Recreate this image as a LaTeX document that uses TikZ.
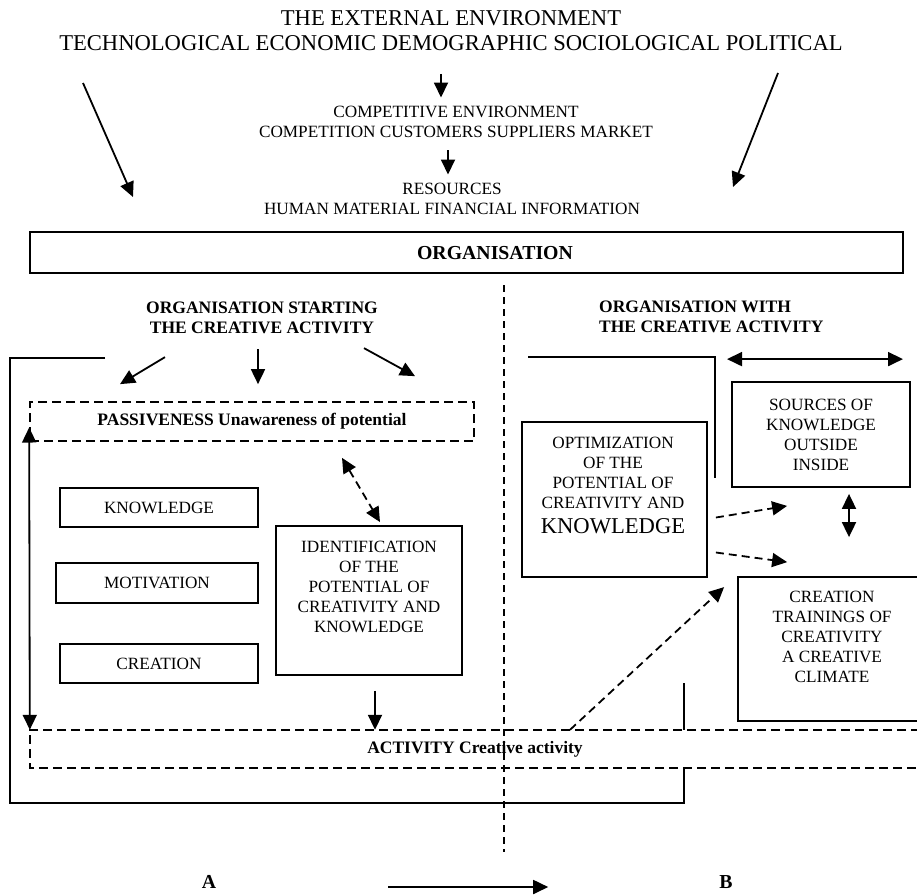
\documentclass[tikz,border=0pt]{standalone}
\usepackage{fontspec}
\setmainfont{Liberation Serif}
\usetikzlibrary{arrows.meta}

\begin{document}
\begin{tikzpicture}[x=1pt, y=-1pt, >={Triangle[length=15pt,width=14pt]}]
   \tikzstyle{every node}=[font=\fontsize{17.2}{20}\selectfont, align=center, inner sep=0pt]
   \tikzstyle{head}=[font=\fontsize{17.5}{20}\selectfont\bfseries]
   \tikzstyle{box}=[draw, line width=1.8pt]
   \tikzstyle{dbox}=[draw, line width=1.7pt, dash pattern=on 9pt off 5pt]
   \tikzstyle{frame}=[line width=1.2pt]
   \tikzstyle{arr}=[line width=1.8pt]
   \tikzstyle{darr}=[line width=1.8pt, dash pattern=on 8pt off 5pt]

\useasboundingbox (0,0) rectangle (917,894);

% environment levels
\node[font=\fontsize{22.6}{25}\selectfont] (ext) at (451,30.5)
    {THE EXTERNAL ENVIRONMENT\\TECHNOLOGICAL ECONOMIC DEMOGRAPHIC SOCIOLOGICAL POLITICAL};
\node (comp) at (456,121.5) {COMPETITIVE ENVIRONMENT\\COMPETITION CUSTOMERS SUPPLIERS MARKET};
\node (res) at (452,198.5) {RESOURCES\\HUMAN MATERIAL FINANCIAL INFORMATION};

\draw[arr,->] ([xshift=-10pt,yshift=-23pt]ext.south) -- ([xshift=-15pt,yshift=8pt]comp.north);
\draw[arr,->] ([xshift=-8pt,yshift=-13pt]comp.south) -- ([xshift=-4pt,yshift=8pt]res.north);

\coordinate (envL) at (83,83);
\coordinate (envR) at (778,73);
\coordinate (inL) at (133,197);
\coordinate (inR) at (733,187);
\draw[arr,->] (envL) -- (inL);
\draw[arr,->] (envR) -- (inR);

% organisation
\node[box, minimum width=873pt, minimum height=41pt] (org) at (466.5,252.5) {};
\node[font=\fontsize{19.8}{22}\selectfont\bfseries] (orgt) at (495,253) {ORGANISATION};

\draw[line width=1.2pt, dash pattern=on 7pt off 5pt] (504,285) -- (504,852);

% A side
\node[head] (startA) at (262,318) {ORGANISATION STARTING\\THE CREATIVE ACTIVITY};
\node[head, dbox, minimum width=444pt, minimum height=39pt] (pass) at (252,421.5)
    {PASSIVENESS Unawareness of potential};

\draw[arr,->] ([shift={(-97,23)}]startA.south) -- ([shift={(-132,-17)}]pass.north);
\draw[arr,->] ([shift={(-4,15)}]startA.south) -- ([shift={(6,-17)}]pass.north);
\draw[arr,->] ([shift={(102,14)}]startA.south) -- ([shift={(163,-25)}]pass.north);

\node[box, minimum width=198pt, minimum height=39pt] (know) at (159,507.5) {KNOWLEDGE};
\node[box, minimum width=202pt, minimum height=40pt] (motiv) at (157,583) {MOTIVATION};
\node[box, minimum width=198pt, minimum height=39pt] (creat) at (159,663.5) {CREATION};

\node[box, minimum width=186pt, minimum height=149pt] (idbox) at (369,600.5) {};
\node (idtext) at (369,586.5) {IDENTIFICATION\\OF THE\\POTENTIAL OF\\CREATIVITY AND\\KNOWLEDGE};

\draw[darr,<->] ([shift={(90,16)}]pass.south) -- ([shift={(11,-3)}]idbox.north);

% activity
\node[head, minimum width=890pt, minimum height=38pt] (act) at (475,749) {ACTIVITY Creative activity};
\draw[dbox] (act.north east) -- (act.north west) -- (act.south west) -- (act.south east);

\coordinate (idout) at ([xshift=6pt,yshift=-15pt]idbox.south);
\draw[arr,->] (idout) -- (idout |- act.north);
\draw[arr,<->] ([yshift=-6pt]pass.west) -- (act.north west);

\coordinate (stub) at (684,683);
\draw[frame] (105,358) -| (10,803) -| (684,768);
\draw[frame] (stub) -- (stub |- act.north);

% B side
\node[head, anchor=west, align=left] (withB) at (599,317) {ORGANISATION WITH\\THE CREATIVE ACTIVITY};
\draw[frame] (528,357) -| (715,478);

\node[box, minimum width=185pt, minimum height=155pt] (opt) at (614.5,499.5) {};
\node (opttext) at (613,485) {OPTIMIZATION\\OF THE\\POTENTIAL OF\\CREATIVITY AND\\[5pt]{\fontsize{22.6}{24}\selectfont KNOWLEDGE}};

\node[box, minimum width=178pt, minimum height=105pt] (src) at (821,434.5) {SOURCES OF\\KNOWLEDGE\\OUTSIDE\\INSIDE};

\node[box, minimum width=188pt, minimum height=144pt] (cr) at (832,649) {};
\node (crtext) at (832,637) {CREATION\\TRAININGS OF\\CREATIVITY\\A CREATIVE\\CLIMATE};

\draw[arr,<->] ([shift={(-94,-22)}]src.north) -- ([shift={(82,-22)}]src.north);
\draw[arr,<->] ([shift={(28,6)}]src.south) -- ([shift={(17,-39)}]cr.north);

\draw[darr,->] ([shift={(8,18)}]opt.east) -- ([shift={(56,18)}]src.south west);
\draw[darr,->] ([shift={(8,53)}]opt.east) -- ([shift={(50,-14)}]cr.north west);
\draw[darr,->] ([xshift=95pt]act.north) -- ([shift={(-13,11)}]cr.north west);

% A to B
\node[font=\fontsize{19.8}{22}\selectfont\bfseries] (A) at (209,882) {A};
\node[font=\fontsize{19.8}{22}\selectfont\bfseries] (B) at (726,882) {B};
\draw[arr,->] ([shift={(172,5)}]A.east) -- ([shift={(-171,5)}]B.west);

\end{tikzpicture}
\end{document}
